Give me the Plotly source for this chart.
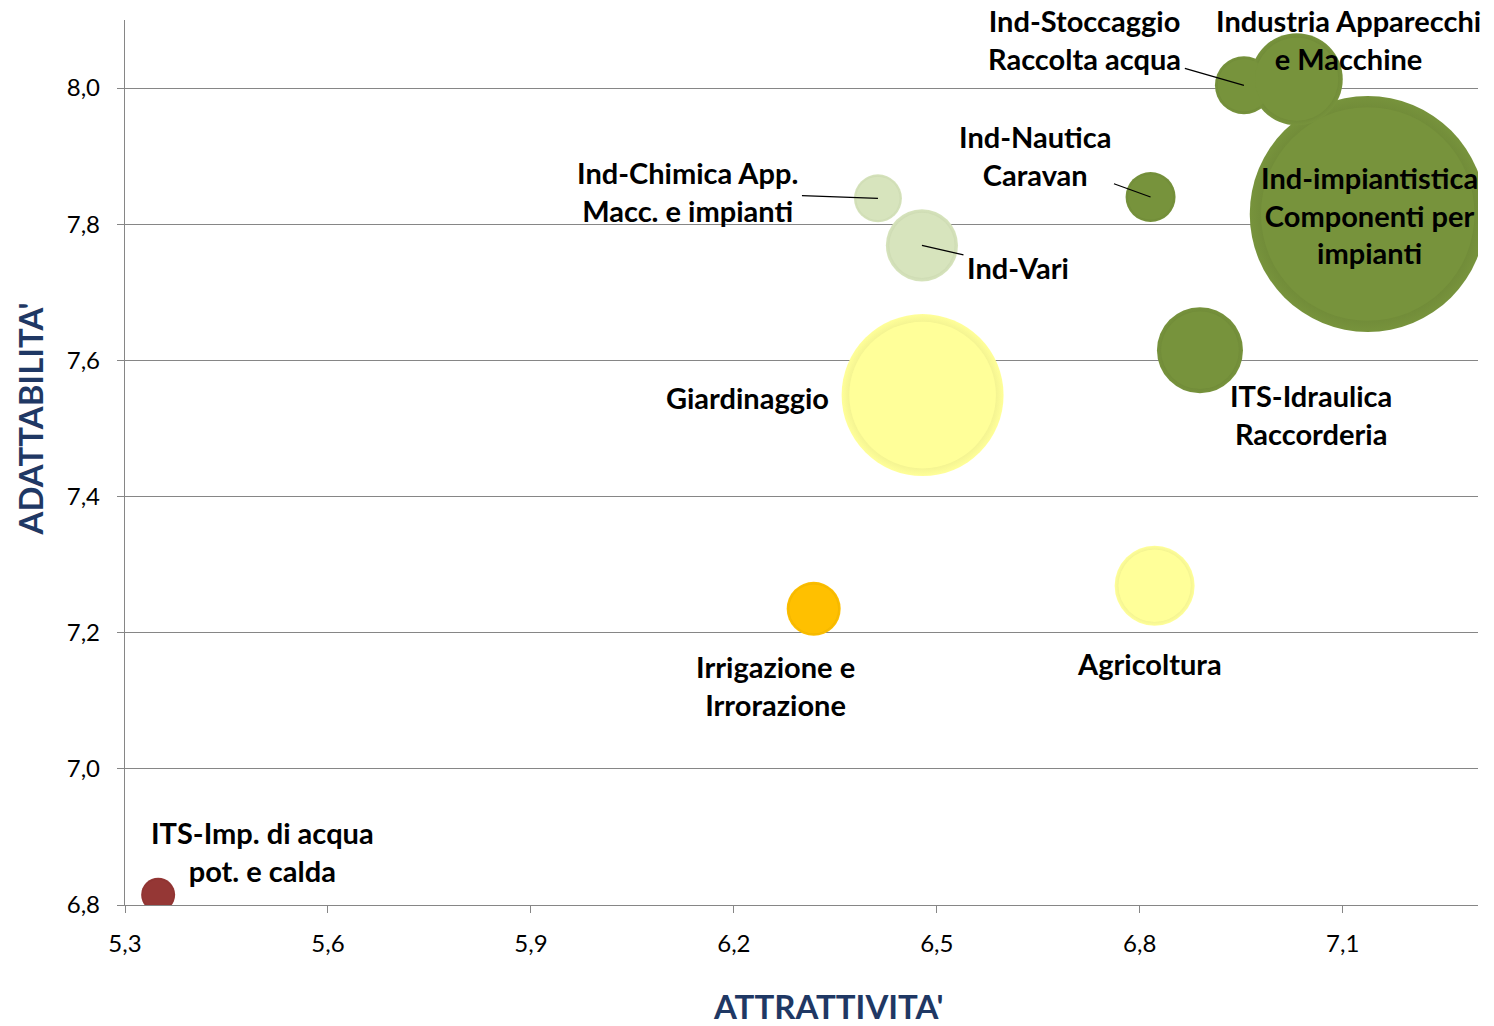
import plotly.graph_objects as go

# ---- data ----
settori = [
    "Ind-impiantistica<br>Componenti per<br>impianti",
    "Giardinaggio",
    "Ind-Stoccaggio<br>Raccolta acqua",
    "Industria Apparecchi<br>e Macchine",
    "ITS-Idraulica<br>Raccorderia",
    "Agricoltura",
    "Ind-Vari",
    "Ind-Chimica App.<br>Macc. e impianti",
    "Ind-Nautica<br>Caravan",
    "Irrigazione e<br>Irrorazione",
    "ITS-Imp. di acqua<br>pot. e calda",
]
attrattivita = [7.137, 6.479, 6.954, 7.032, 6.889, 6.822, 6.478, 6.413, 6.816, 6.318, 5.349]
adattabilita = [7.815, 7.549, 8.004, 8.013, 7.615, 7.269, 7.769, 7.838, 7.840, 7.235, 6.815]
dimensione = [1392, 656, 84, 212, 185, 160, 130, 57.6, 62.5, 72.9, 28.9]
colori = ["#77933C", "#FFFF99", "#77933C", "#77933C", "#77933C", "#FFFF99",
          "#D7E4BD", "#D7E4BD", "#77933C", "#FFC000", "#953735"]
bordi = ["#3F4F1F", "#8F8F55", "#3F4F1F", "#3F4F1F", "#3F4F1F", "#8F8F55",
         "#7F8F60", "#7F8F60", "#3F4F1F", "#7A5C00", "#4A1515"]

x_ticks = [5.3, 5.6, 5.9, 6.2, 6.5, 6.8, 7.1]
y_ticks = [6.8, 7.0, 7.2, 7.4, 7.6, 7.8, 8.0]

# label placement (pixel offsets of label centre from bubble centre, leader flag)
etichette = {
    0: dict(dx=2, dy=1, leader=False),
    1: dict(dx=-175, dy=2, leader=False),
    2: dict(dx=-159, dy=-46, leader=True),
    3: dict(dx=52, dy=-40, leader=False),
    4: dict(dx=111, dy=64, leader=False),
    5: dict(dx=-5, dy=78, leader=False),
    6: dict(dx=96, dy=22, leader=True),
    7: dict(dx=-190, dy=-7, leader=True),
    8: dict(dx=-116, dy=-42, leader=True),
    9: dict(dx=-38, dy=77, leader=False),
    10: dict(dx=104, dy=-43, leader=False),
}

fig = go.Figure()
# outer rim with radial shading
fig.add_trace(go.Scatter(
    x=attrattivita, y=adattabilita, mode="markers",
    marker=dict(size=dimensione, sizemode="area", sizeref=0.05,
                color=colori, opacity=1,
                gradient=dict(type="radial", color=bordi),
                line=dict(width=0)),
    hoverinfo="skip", cliponaxis=True, showlegend=False,
))
# flat inner face
fig.add_trace(go.Scatter(
    x=attrattivita, y=adattabilita, mode="markers",
    marker=dict(size=dimensione, sizemode="area", sizeref=0.05 * 1.22,
                color=colori, opacity=1, line=dict(width=0)),
    hoverinfo="skip", cliponaxis=True, showlegend=False,
))

font_lab = dict(family="Lato, 'Open Sans', sans-serif", size=29, color="#000000")
for i, lab in enumerate(settori):
    p = etichette[i]
    if p["leader"]:
        fig.add_annotation(
            x=attrattivita[i], y=adattabilita[i], text="<b>" + lab + "</b>",
            showarrow=True, arrowhead=0, arrowwidth=1.3, arrowcolor="#000000",
            ax=p["dx"], ay=p["dy"], standoff=0, startstandoff=2,
            font=font_lab, align="center",
        )
    else:
        fig.add_annotation(
            x=attrattivita[i], y=adattabilita[i], text="<b>" + lab + "</b>",
            showarrow=False, xshift=p["dx"], yshift=-p["dy"],
            font=font_lab, align="center",
        )

# axis titles
fig.add_annotation(xref="paper", yref="paper", x=0.520, y=-0.1141, yanchor="middle",
                   text="<b>ATTRATTIVITA'</b>", showarrow=False,
                   font=dict(family="Lato, sans-serif", size=33, color="#1F3864"))
fig.add_annotation(xref="paper", yref="paper", x=-0.070, y=0.549, xanchor="center",
                   text="<b>ADATTABILITA'</b>", showarrow=False, textangle=-90,
                   font=dict(family="Lato, sans-serif", size=33, color="#1F3864"))

fig.update_layout(
    width=1494, height=1026,
    margin=dict(l=125, r=16, t=20, b=121),
    paper_bgcolor="white", plot_bgcolor="white",
    separators=",.",
    font=dict(family="Lato, sans-serif", size=24, color="#000000"),
    xaxis=dict(range=[5.3, 7.3], tickvals=x_ticks, tickformat=".1f",
               showgrid=False, zeroline=False, showline=True, linecolor="#868686",
               linewidth=1.3, ticks="outside", ticklen=7, tickcolor="#868686",
               ticklabelstandoff=10, tickfont=dict(size=24)),
    yaxis=dict(range=[6.8, 8.1], tickvals=y_ticks, tickformat=".1f",
               showgrid=True, gridcolor="#868686", gridwidth=1.2, zeroline=False,
               showline=True, linecolor="#868686", linewidth=1.3,
               ticks="outside", ticklen=7, tickcolor="#868686",
               ticklabelstandoff=12, tickfont=dict(size=24)),
)

fig.write_html("out.html")
